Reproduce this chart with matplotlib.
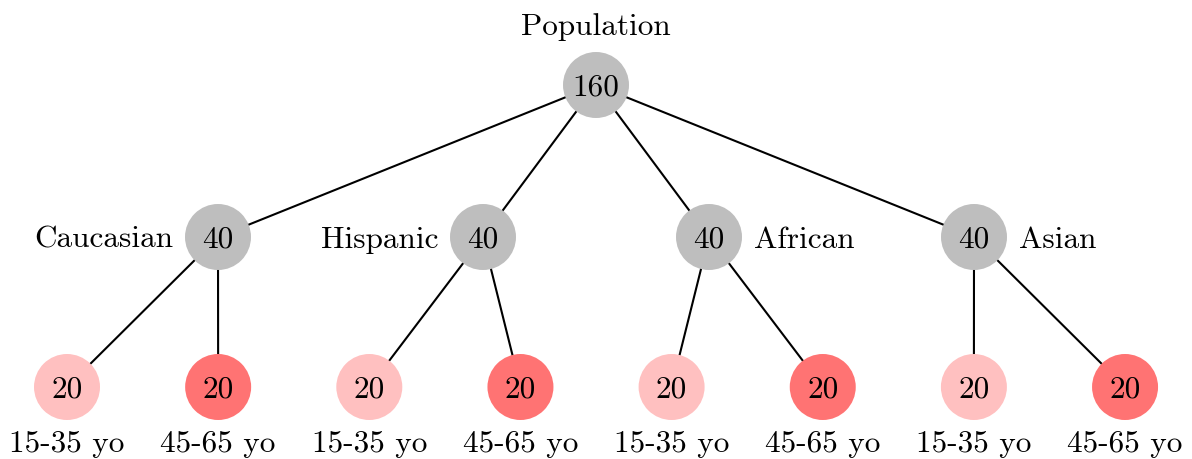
import matplotlib
matplotlib.use("Agg")
import matplotlib.pyplot as plt
from matplotlib.patches import Circle

# ---- data ----
root_label = "Population"
root_value = 160
groups = ["Caucasian", "Hispanic", "African", "Asian"]
group_values = [40, 40, 40, 40]
age_labels = ["15-35 yo", "45-65 yo"]
leaf_values = [[20, 20], [20, 20], [20, 20], [20, 20]]

# ---- layout (pixels) ----
W, H = 1192, 459
R = 33
root_xy = (596, 85)
group_x = [218, 483, 709, 974]
group_y = 237
leaf_x0, leaf_dx, leaf_y = 67, 151.15, 387
label_side = ["left", "left", "right", "right"]

gray = "#BEBEBE"
leaf_colors = ["#FFC0C0", "#FF7373"]

plt.rcParams["font.family"] = ["cmr10", "DejaVu Serif"]
plt.rcParams["axes.formatter.use_mathtext"] = True
FS = 22.5

fig = plt.figure(figsize=(W / 100, H / 100), dpi=100)
ax = fig.add_axes([0, 0, 1, 1])
ax.set_xlim(0, W)
ax.set_ylim(H, 0)
ax.set_aspect("equal")
ax.axis("off")

def node(x, y, val, color):
    ax.add_patch(Circle((x, y), R, facecolor=color, edgecolor="none", zorder=3))
    ax.text(x, y, str(val), ha="center", va="center_baseline", fontsize=FS, zorder=4)

def edge(a, b):
    ax.plot([a[0], b[0]], [a[1], b[1]], color="black", lw=1.5, zorder=1,
            solid_capstyle="butt")

node(*root_xy, root_value, gray)
ax.text(root_xy[0], 24, root_label, ha="center", va="center_baseline", fontsize=FS)

for i, (g, gv) in enumerate(zip(groups, group_values)):
    gxy = (group_x[i], group_y)
    edge(root_xy, gxy)
    node(*gxy, gv, gray)
    if label_side[i] == "left":
        ax.text(gxy[0] - R - 12, group_y, g, ha="right", va="center_baseline", fontsize=FS)
    else:
        ax.text(gxy[0] + R + 12, group_y, g, ha="left", va="center_baseline", fontsize=FS)
    for j, lv in enumerate(leaf_values[i]):
        k = 2 * i + j
        lxy = (leaf_x0 + k * leaf_dx, leaf_y)
        edge(gxy, lxy)
        node(*lxy, lv, leaf_colors[j])
        ax.text(lxy[0], 441, age_labels[j], ha="center", va="center_baseline", fontsize=FS)

fig.savefig("out.png", dpi=100)
